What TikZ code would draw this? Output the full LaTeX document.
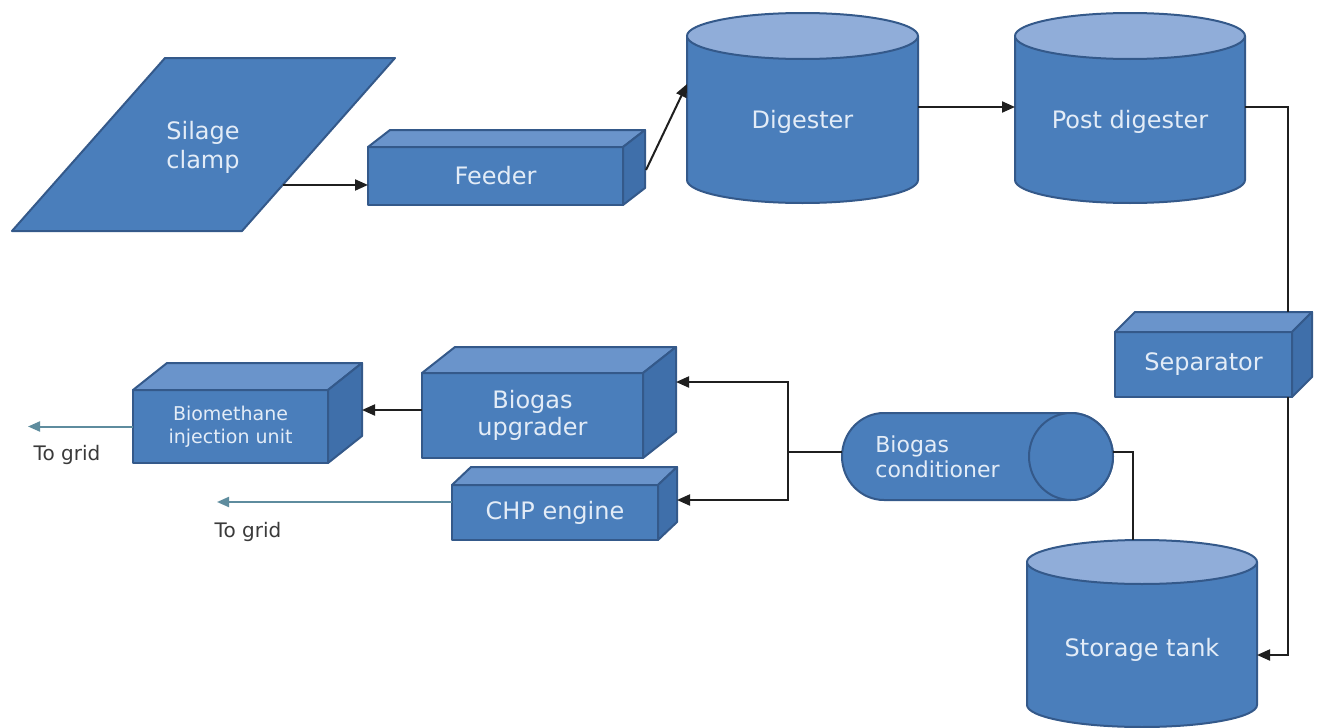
\documentclass[tikz,border=0pt]{standalone}
\usepackage{fontspec}
\setmainfont{DejaVu Sans}
\usetikzlibrary{calc,arrows.meta}
\definecolor{bfront}{HTML}{4A7EBB}
\definecolor{bedge}{HTML}{34598A}
\definecolor{btop}{HTML}{6A94CB}
\definecolor{bside}{HTML}{3F6FAA}
\definecolor{bcyltop}{HTML}{90ADD9}
\definecolor{btext}{HTML}{E3ECF7}
\definecolor{barrow}{HTML}{1F1F1F}
\definecolor{bteal}{HTML}{5E8C9E}
\definecolor{bgrey}{HTML}{3A3A3A}
\tikzset{
  edge/.style={draw=bedge, line width=1pt, line join=round},
  front/.style={edge, fill=bfront, rectangle, outer sep=0pt, inner sep=0pt, text=btext,
    font=\fontsize{12}{13.5}\selectfont, align=center},
  topface/.style={edge, fill=btop},
  sideface/.style={edge, fill=bside},
  cylnode/.style={rectangle, draw=none, outer sep=0pt, inner sep=0pt},
  cylbody/.style={edge, fill=bfront},
  cyltop/.style={edge, fill=bcyltop},
  lbl/.style={text=btext, font=\fontsize{12}{14}\selectfont, align=center, inner sep=0pt},
  flow/.style={draw=barrow, line width=1pt, -{Triangle[length=6.5pt,width=5.5pt]}},
  plain/.style={draw=barrow, line width=1pt},
  togrid/.style={draw=bteal, line width=1pt, -{Triangle[length=6pt,width=5pt]}},
  gridlbl/.style={text=bgrey, font=\fontsize{10}{12}\selectfont, inner sep=0pt},
}
% [options], name, cx, cy, w, h, dx, dy, text
\newcommand\cubebox[9][]{%
  \node[front, minimum width={#5*0.5pt}, minimum height={#6*0.5pt}, #1] (#2) at (#3,#4) {#9};
  \filldraw[topface] (#2.north west) -- ++(#7,-#8) -- ([shift={(#7,-#8)}]#2.north east) -- (#2.north east) -- cycle;
  \filldraw[sideface] (#2.north east) -- ++(#7,-#8) -- ([shift={(#7,-#8)}]#2.south east) -- (#2.south east) -- cycle;
}
% name, cx, top edge y, bottom edge y, rx, ry, text y, text
\newcommand\vcyl[8]{%
  \node[cylnode, minimum width={#5*1pt}, minimum height={(#4-#3)*0.5pt}] (#1) at (#2,{(#3+#4)/2}) {};
  \filldraw[cylbody] ($(#1.north west)+(0,#6)$) -- ($(#1.south west)+(0,-#6)$)
    arc[start angle=180,end angle=360,x radius={#5*0.5pt},y radius={#6*0.5pt}]
    -- ($(#1.north east)+(0,#6)$) -- cycle;
  \filldraw[cyltop] ($(#1.north)+(0,#6)$) ellipse[x radius={#5*0.5pt},y radius={#6*0.5pt}];
  \node[lbl] (#1-t) at (#2,#7) {#8};
}
\begin{document}
\begin{tikzpicture}[x=0.5pt,y=-0.5pt]
\useasboundingbox (0,0) rectangle (1324,728);
\fill[white] (0,0) rectangle (1324,728);

% Silage clamp
\coordinate (sTL) at (165,58);
\coordinate (sTR) at (395,58);
\coordinate (sBR) at (242,231);
\coordinate (sBL) at (12,231);
\filldraw[cylbody] (sTL) -- (sTR) -- (sBR) -- (sBL) -- cycle;
\node[lbl, font=\fontsize{12}{14.5}\selectfont] (silage) at (203,147) {Silage\\clamp};
\coordinate (silR) at ($(sBR)!0.266!(sTR)$);

% boxes
\cubebox{feeder}{495.5}{176}{255}{58}{22}{17}{Feeder}
\cubebox{up}{532.5}{415.5}{221}{85}{33}{26}{Biogas\\upgrader}
\cubebox{chp}{555}{512.5}{206}{55}{19}{18}{CHP engine}
\cubebox[font=\fontsize{9.5}{11.5}\selectfont]{bio}{230.5}{426.5}{195}{73}{34}{27}{Biomethane\\injection unit}
\cubebox{sep}{1203.5}{364.5}{177}{65}{20}{20}{Separator}

% cylinders
\vcyl{dig}{802.5}{13}{203}{115.5}{23}{122}{Digester}
\vcyl{post}{1130}{13}{203}{115}{23}{122}{Post digester}
\vcyl{tank}{1142}{540}{727}{115}{22}{650}{Storage tank}

% Biogas conditioner (horizontal cylinder)
\node[cylnode, minimum width=135.5pt, minimum height=43.5pt] (cond) at (977.5,456.5) {};
\filldraw[cylbody] ($(cond.north west)+(42,0)$) -- ($(cond.north east)+(-42,0)$)
  arc[start angle=90,end angle=-90,x radius=21pt,y radius=21.75pt]
  -- ($(cond.south west)+(42,0)$)
  arc[start angle=270,end angle=90,x radius=21pt,y radius=21.75pt] -- cycle;
\filldraw[cylbody] ($(cond.east)+(-42,0)$) ellipse[x radius=21pt,y radius=21.75pt];
\node[lbl, anchor=west, align=left, font=\fontsize{11}{12.5}\selectfont] (cond-t) at (875,457) {Biogas\\conditioner};

% helper coordinates
\coordinate (sepT) at ($(sep.north)+(84.5,-20)$);
\coordinate (sepB) at ($(sep.south)+(84.5,0)$);
\coordinate (jn) at ($(cond.west)+(-54,-4.5)$);
\coordinate (upR) at ([shift={(33,-33.5)}]up.east);
\coordinate (chpR) at ([shift={(19,-12.5)}]chp.east);
\coordinate (g1) at ($(bio.west)+(-105,0)$);
\coordinate (g2) at ($([yshift=5.25pt]chp.west)+(-235,0)$);

% connectors
\draw[flow] (silR) -- (silR -| feeder.west);
\draw[flow] ([shift={(23,-6)}]feeder.east) -- ([yshift=12pt]dig.west);
\draw[flow] ([yshift=0.5pt]dig.east) -- ([yshift=0.5pt]post.west);
\draw[plain] ([yshift=0.5pt]post.east) -| (sepT);
\draw[flow] (sepB) |- ([yshift=-10.75pt]tank.east);
\draw[plain] ($(tank.north)+(-9,0)$) |- ([yshift=2.25pt]cond.east);
\draw[plain] ([yshift=2.25pt]cond.west) -- (jn);
\draw[flow] (jn) |- (upR);
\draw[flow] (jn) |- (chpR);
\draw[flow] ([yshift=2.75pt]up.west) -- ([shift={(34,-16.5)}]bio.east);
\draw[togrid] (bio.west) -- (g1);
\draw[togrid] ([yshift=5.25pt]chp.west) -- (g2);

\node[gridlbl] (tg1) at (67,455) {To grid};
\node[gridlbl] (tg2) at (248,532) {To grid};
\end{tikzpicture}
\end{document}
